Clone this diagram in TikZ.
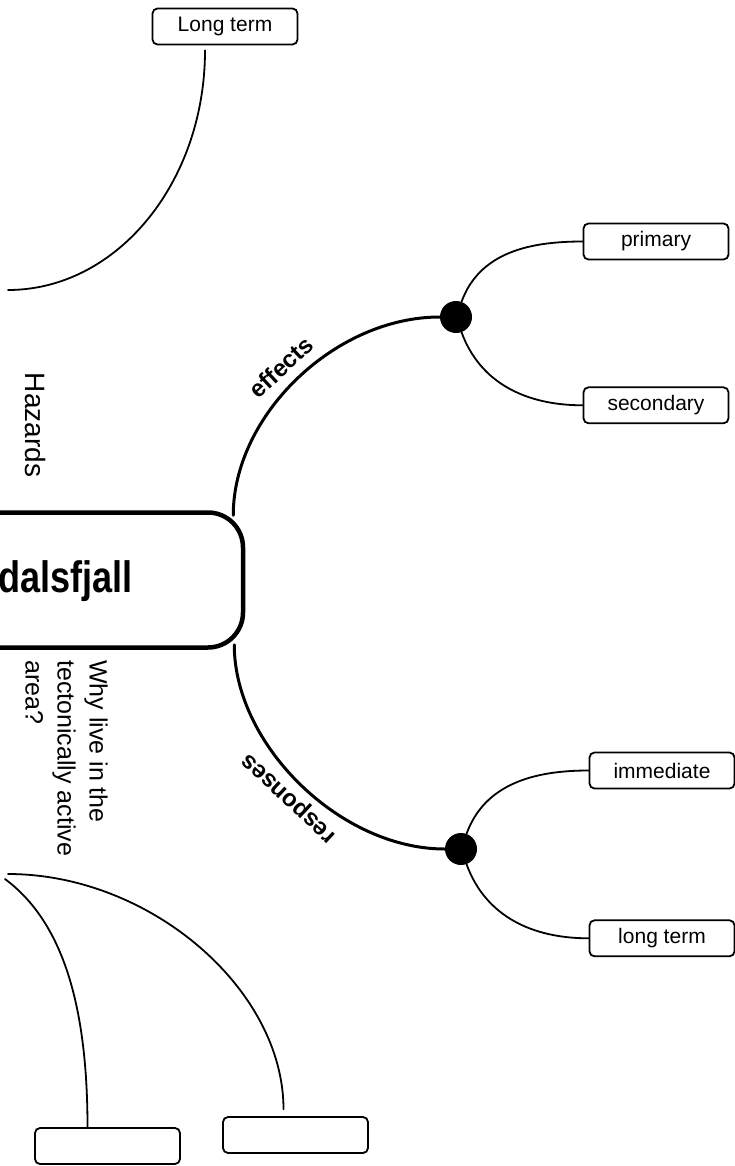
\documentclass[tikz,border=0pt]{standalone}
\usepackage{fontspec}
\setmainfont{Liberation Sans}
\usetikzlibrary{positioning}

\tikzset{
  leaf/.style={draw,rounded corners=5pt,line width=1.8pt,minimum width=145pt,minimum height=36pt,inner sep=0pt,font=\fontsize{21}{25}\selectfont},
  hub/.style={draw,rounded corners=35pt,line width=4.5pt,minimum width=393pt,minimum height=135pt},
  hubdot/.style={circle,fill,minimum size=32pt,inner sep=0pt},
  twig/.style={line width=1.8pt},
  bough/.style={line width=3pt},
  tag/.style={font=\bfseries\fontsize{24}{28}\selectfont,inner sep=0pt},
}

\begin{document}
\begin{tikzpicture}[x=1pt,y=1pt,line cap=round]
      \useasboundingbox (0,0) rectangle (735,-1166);
      \clip (0,0) rectangle (735,-1166);

      % centre
      \node[hub] (hub) at (46.5,-580) {};
      \node[anchor=base east,inner sep=0pt,font=\bfseries\fontsize{44}{50}\selectfont] (name) at (133,-592) {\scalebox{0.82}[1]{dalsfjall}};

      % effects
      \node[hubdot] (effdot) at (456,-317) {};
      \node[leaf] (primary) at (656,-241.5) {primary};
      \node[leaf,below=126pt of primary] (secondary) {secondary};

      % responses
      \node[hubdot] (resdot) at (461,-849) {};
      \node[leaf] (immediate) at (662,-770.5) {immediate};
      \node[leaf,below=130pt of immediate] (longterm) {long term};

      \draw[bough] ([xshift=-12pt,yshift=-5pt]hub.north east) .. controls +(0,100) and +(-105,0) .. (effdot.west);
      \draw[bough] ([xshift=-11pt,yshift=5pt]hub.south east) .. controls +(0,-100) and +(-105,0) .. (resdot.west);
      \node[tag,rotate=43] (efftag) at (281,-367) {effects};
      \node[tag,rotate=137] (restag) at (290,-797) {responses};

      \draw[twig] (effdot.70) to[out=70,in=180] (primary.west);
      \draw[twig] (effdot.-70) to[out=-70,in=180] (secondary.west);
      \draw[twig] (resdot.70) to[out=70,in=180] (immediate.west);
      \draw[twig] (resdot.-70) to[out=-70,in=180] (longterm.west);

      % hazards
      \node[leaf] (lterm) at (225,-26.5) {Long term};
      \coordinate (hazfoot) at (8,-290);
      \draw[twig] ([xshift=-20pt,yshift=-5pt]lterm.south) .. controls +(0,-132) and +(109,0) .. (hazfoot);
      \node[rotate=-90,inner sep=0pt,font=\fontsize{28}{32}\selectfont] (hazards) at (36,-425) {Hazards};

      % why live there
      \node[rotate=-90,anchor=north west,align=left,inner sep=0pt,font=\fontsize{25}{32}\selectfont] (why) at (108,-660) {Why live in the\\tectonically active\\area?};
      \node[leaf] (basea) at (107.5,-1146) {};
      \node[leaf] (baseb) at (295.5,-1135) {};
      \coordinate (whyfoota) at (5,-879);
      \coordinate (whyfootb) at (8,-874);
      \draw[twig] (whyfootb) .. controls +(142,0) and +(0,120) .. ([xshift=-12pt,yshift=7pt]baseb.north);
      \draw[twig] (whyfoota) .. controls +(55,-41) and +(0,128) .. ([xshift=-20pt]basea.north);
\end{tikzpicture}
\end{document}
